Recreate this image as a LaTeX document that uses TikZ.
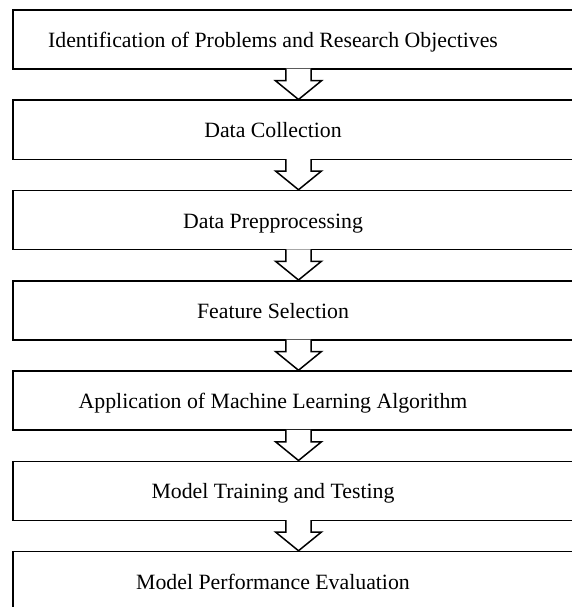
\documentclass[tikz,border=0pt]{standalone}
\usepackage{fontspec}
\setmainfont{Liberation Serif}
\usepackage{tikz}
\usetikzlibrary{positioning}

\tikzset{
    stepbox/.style={draw, line width=1.5pt, fill=white, minimum width=571pt, minimum height=59pt, inner sep=0pt},
    steptext/.style={xshift=-25.5pt, inner sep=0pt, text height=16pt, text depth=0pt, font=\fontsize{21.8}{26}\selectfont},
    downarrow/.style={draw, fill=white, line width=1.5pt, line join=miter}
}

\begin{document}
\begin{tikzpicture}[x=1pt,y=1pt]
        \useasboundingbox (0,0) rectangle (571,-607);

        % the seven stages, one under the other
        \foreach \txt [count=\i] in {Identification of Problems and Research Objectives,
            Data Collection, Data Prepprocessing, Feature Selection,
            Application of Machine Learning Algorithm, Model Training and Testing,
            Model Performance Evaluation}
            \node [stepbox, label={[steptext]center:\txt}] (s\i) at (298.5,{-39.5-90.25*(\i-1)}) {};

        % hollow arrows between them
        \foreach \i [evaluate=\i as \j using int(\i+1)] in {1,...,6}
            \path [downarrow] ([xshift=-12.7pt,yshift=1pt]s\i.south) -- ([xshift=-12.7pt,yshift=-11pt]s\i.south)
                -- ([xshift=-23pt,yshift=-11pt]s\i.south) -- (s\j.north)
                -- ([xshift=23pt,yshift=-11pt]s\i.south) -- ([xshift=12.7pt,yshift=-11pt]s\i.south)
                -- ([xshift=12.7pt,yshift=1pt]s\i.south);
\end{tikzpicture}
\end{document}
